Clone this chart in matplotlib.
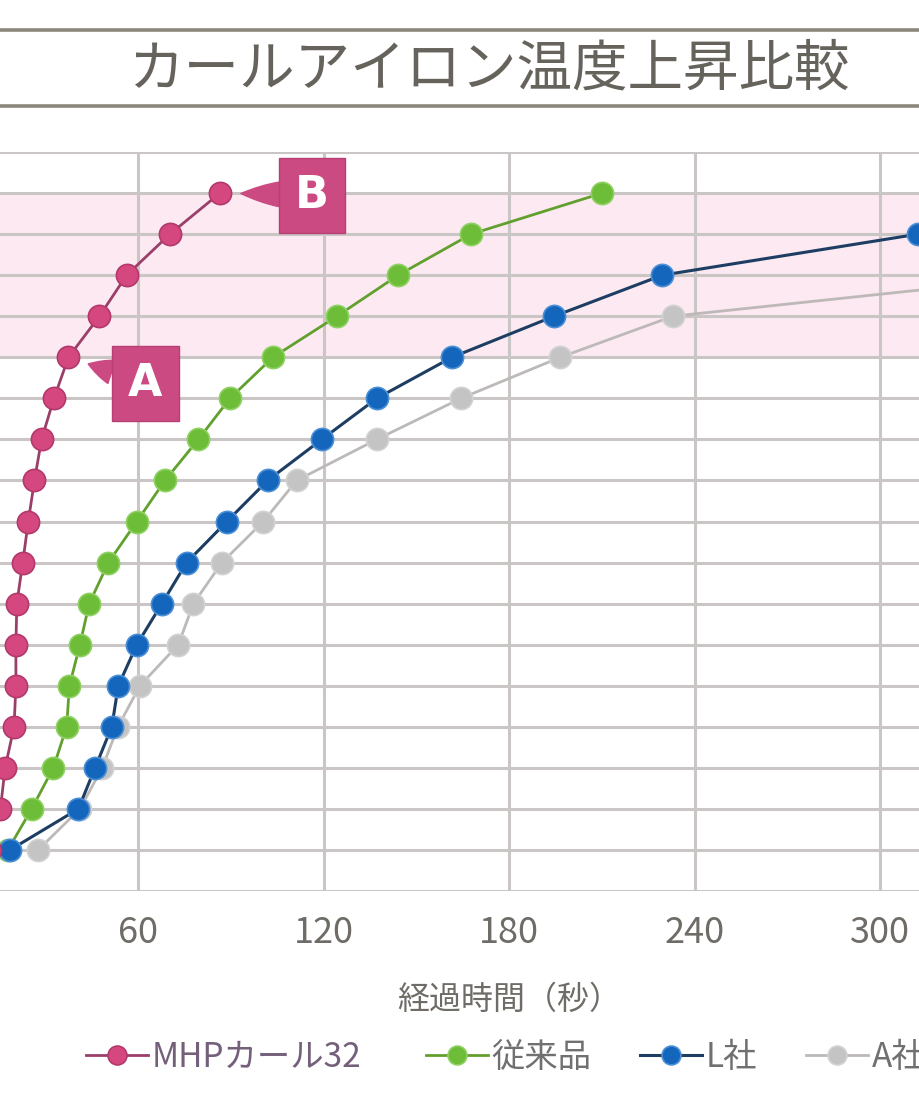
import matplotlib.pyplot as plt
from matplotlib.lines import Line2D

plt.rcParams['font.family'] = ['Noto Sans CJK JP', 'DejaVu Sans']

# temperature steps (deg C) and seconds needed to reach each one
temps_mhp = [30, 40, 50, 60, 70, 80, 90, 100, 110, 120, 130, 140, 150, 160, 170, 180, 190]
time_mhp = [12, 15.5, 17.0, 19.9, 20.5, 20.5, 20.8, 22.7, 24.5, 26.5, 28.8, 32.8, 37.5, 47.5, 56.3, 70.3, 86.5]

temps_old = [30, 40, 50, 60, 70, 80, 90, 100, 110, 120, 130, 140, 150, 160, 170, 180, 190]
time_old = [17.9, 25.6, 32.6, 36.9, 37.8, 41.2, 44.2, 50.4, 59.6, 68.7, 79.5, 89.7, 103.6, 124.3, 144.1, 167.7, 210.1]

temps_l = [30, 40, 50, 60, 70, 80, 90, 100, 110, 120, 130, 140, 150, 160, 170, 180]
time_l = [18.6, 40.7, 46.1, 51.5, 53.6, 59.6, 67.7, 75.7, 88.7, 101.9, 119.4, 137.2, 161.5, 194.5, 229.5, 312.2]

temps_a = [30, 40, 50, 60, 70, 80, 90, 100, 110, 120, 130, 140, 150, 160, 170]
time_a = [27.7, 41.2, 48.4, 53.5, 60.6, 73.0, 77.9, 87.1, 100.5, 111.3, 137.2, 164.4, 196.5, 232.9, 358]

labels = ['MHPカール32', '従来品', 'L社', 'A社']
x_ticks = [0, 60, 120, 180, 240, 300, 360]
x_ticklabels = ['', '60', '120', '180', '240', '300', '']

W, H = 920, 1104
fig = plt.figure(figsize=(W / 100, H / 100), dpi=100)
fig.patch.set_facecolor('white')

# axes: x=0 sits left of the picture, 360 s right of it
ax = fig.add_axes([-47.5 / W, 1 - 891 / H, 1113.5 / W, 739 / H])
ax.set_xlim(0, 360)
ax.set_ylim(20, 200)
ax.set_xticks(x_ticks)
ax.set_xticklabels(x_ticklabels)
ax.set_yticks(range(20, 201, 10))
ax.set_yticklabels([])
ax.tick_params(length=0, pad=17, labelsize=26, labelcolor='#6f6b66')
ax.grid(True, color='#cbc6c6', linewidth=2.2)
ax.set_axisbelow(True)
for s in ax.spines.values():
    s.set_visible(False)
ax.axhspan(150, 190, color='#fce9f1', zorder=0)

ax.set_xlabel('経過時間（秒）', fontsize=23, color='#6f6b66', labelpad=24)

l_a, = ax.plot(time_a, temps_a, color='#bdb9b9', lw=2, marker='o', ms=16,
               mfc='#c4c4c4', mec='#d2d2d2', mew=1.2, zorder=2)
l_old, = ax.plot(time_old, temps_old, color='#62a02e', lw=2, marker='o', ms=16,
                 mfc='#6dbd38', mec='#8fd163', mew=1.2, zorder=3)
l_l, = ax.plot(time_l, temps_l, color='#1d3d63', lw=2.2, marker='o', ms=16,
               mfc='#1466bd', mec='#4b8fd6', mew=1.2, zorder=4)
l_mhp, = ax.plot(time_mhp, temps_mhp, color='#9a3f69', lw=2, marker='o', ms=16,
                 mfc='#d5487f', mec='#b3386c', mew=1.2, zorder=5)

# A / B callouts
box = dict(boxstyle='square,pad=0.36', fc='#cc4a82', ec='#b83f74', lw=1)
wedge = dict(arrowstyle='wedge,tail_width=0.55,shrink_factor=0.6',
             fc='#cc4a82', ec='#cc4a82', shrinkA=0, shrinkB=15)
ax.annotate('A', xy=(time_mhp[12], temps_mhp[12]), xytext=(77, -26),
            textcoords='offset pixels', ha='center', va='center',
            fontsize=32, fontweight='bold', color='white',
            family='DejaVu Sans', bbox=box, arrowprops=wedge, zorder=6)
ax.annotate('B', xy=(time_mhp[16], temps_mhp[16]), xytext=(92, -2),
            textcoords='offset pixels', ha='center', va='center',
            fontsize=32, fontweight='bold', color='white',
            family='DejaVu Sans', bbox=box, arrowprops=wedge, zorder=6)

# title band
for y in (30, 106):
    fig.add_artist(Line2D([0, 1], [1 - y / H, 1 - y / H], transform=fig.transFigure,
                          color='#8c877d', lw=2.6))
fig.text(490 / W, 1 - 70 / H, 'カールアイロン温度上昇比較', ha='center', va='center',
         fontsize=40, color='#66625c')

# legend, one entry per block
leg_x = [86, 426, 640, 806]
leg_colors = ['#74607a', '#707070', '#707070', '#707070']
for line, lab, x0, tc in zip([l_mhp, l_old, l_l, l_a], labels, leg_x, leg_colors):
    lg = fig.legend([line], [lab], loc='center left',
                    bbox_to_anchor=(x0 / W, 1 - 1057 / H), frameon=False,
                    fontsize=24, handlelength=1.85, handletextpad=0.12,
                    borderpad=0, borderaxespad=0, numpoints=1, markerscale=0.85)
    for t in lg.get_texts():
        t.set_color(tc)

fig.savefig('out.png', dpi=100)
